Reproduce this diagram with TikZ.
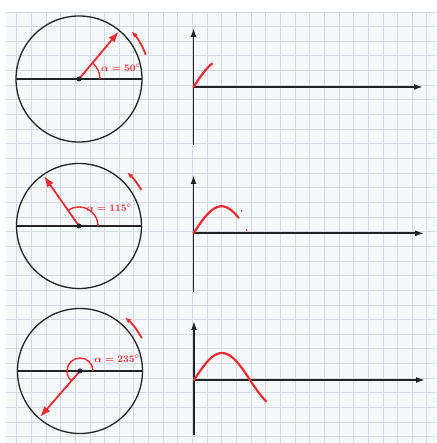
\documentclass[tikz,border=0pt]{standalone}
\usetikzlibrary{arrows.meta}
\definecolor{ink}{RGB}{35,35,35}
\definecolor{pen}{RGB}{232,45,52}
\definecolor{paper}{RGB}{247,248,250}
\definecolor{gridc}{RGB}{214,218,226}
\begin{document}
\begin{tikzpicture}[x=1pt, y=1pt,
    gridline/.style={gridc, line width=0.9pt},
    circ/.style={draw=ink, line width=1.3pt},
    diam/.style={ink, line width=2.4pt},
    vec/.style={pen, line width=1.8pt, -{Latex[length=11pt,width=8pt]}},
    angarc/.style={pen, line width=1.4pt},
    turn/.style={pen, line width=1.8pt, -{Latex[length=6pt,width=5pt]}},
    axis/.style={ink, line width=1.6pt, -{Latex[length=9pt,width=6pt]}},
    curve/.style={pen, line width=2.2pt, line cap=round},
    lbl/.style={text=pen, inner sep=0pt, font=\boldmath},
    dot/.style={fill=ink, circle, inner sep=0pt, minimum size=5pt},
    splash/.style={fill=pen, circle, inner sep=0pt, minimum size=2pt}
  ]
  \useasboundingbox (0,0) rectangle (436,443);
  \fill[white] (0,0) rectangle (436,443);
  \fill[paper] (6,0) rectangle (436,431);
  \foreach \i in {0,...,28}
    \draw[gridline] ({16.7+14.65*\i},0) -- ({16.7+14.65*\i},431);
  \foreach \j in {0,...,29}
    \draw[gridline] (6,{431-14.65*\j}) -- (436,{431-14.65*\j});

  % alpha = 50
  \coordinate (c1) at (79,364);
  \draw[circ] (c1) circle[radius=63];
  \draw[diam] ([xshift=-63pt]c1) -- ([xshift=63pt]c1);
  \draw[angarc] ([shift={(0:21)}]c1) arc[start angle=0, end angle=50, radius=21];
  \coordinate (t1) at ([shift={(50:62)}]c1);
  \draw[vec] (c1) -- (t1);
  \node[dot] (m1) at (c1) {};
  \node[lbl] (l1) at (121,375) {$\alpha = 50^\circ$};
  \draw[turn] ([shift={(20:71)}]c1) arc[start angle=20, end angle=42, radius=71];

  \coordinate (o1) at (193.5,356);
  \coordinate (v1) at (193.5,298);
  \coordinate (w1) at (193.5,415);
  \coordinate (h1) at (423,356);
  \draw[axis] (v1) -- (w1);
  \draw[axis] (o1) -- (h1);
  \draw[curve, shift={(o1)}] plot[domain=0:60, samples=25, smooth] ({\x*56/180},{27*sin(\x)});

  % alpha = 115
  \coordinate (c2) at (79,217);
  \draw[circ] (c2) circle[radius=62.5];
  \draw[diam] ([xshift=-62.5pt]c2) -- ([xshift=62.5pt]c2);
  \draw[angarc] ([shift={(0:19)}]c2) arc[start angle=0, end angle=125, radius=19];
  \coordinate (t2) at ([shift={(125:61)}]c2);
  \draw[vec] (c2) -- (t2);
  \node[dot] (m2) at (c2) {};
  \node[lbl] (l2) at (109,235) {$\alpha = 115^\circ$};
  \draw[turn] ([shift={(30:72)}]c2) arc[start angle=30, end angle=48, radius=72];

  \coordinate (o2) at (193.5,209.7);
  \coordinate (v2) at (193.5,151.3);
  \coordinate (w2) at (193.5,268);
  \coordinate (h2) at (424,209.7);
  \draw[axis] (v2) -- (w2);
  \draw[axis] (o2) -- (h2);
  \draw[curve, shift={(o2)}] plot[domain=0:145, samples=40, smooth] ({\x*56/180},{27*sin(\x)});
  \node[splash] (s1) at (241.7,232) {};
  \node[splash] (s2) at (246.7,213) {};

  % alpha = 235
  \coordinate (c3) at (80,72);
  \draw[circ] (c3) circle[radius=62.5];
  \draw[diam] ([xshift=-62.5pt]c3) -- ([xshift=62.5pt]c3);
  \draw[angarc] ([shift={(0:13)}]c3) arc[start angle=0, end angle=230, radius=13];
  \coordinate (t3) at ([shift={(229:61)}]c3);
  \draw[vec] (c3) -- (t3);
  \node[dot] (m3) at (c3) {};
  \node[lbl] (l3) at (117,84) {$\alpha = 235^\circ$};
  \draw[turn] ([shift={(28:70)}]c3) arc[start angle=28, end angle=50, radius=70];

  \coordinate (o3) at (194,63);
  \coordinate (v3) at (194,8);
  \coordinate (w3) at (194,122);
  \coordinate (h3) at (425,63);
  \draw[axis] (v3) -- (w3);
  \draw[axis] (o3) -- (h3);
  \draw[curve, shift={(o3)}] plot[domain=0:232, samples=50, smooth] ({\x*56/180},{27*sin(\x)});
\end{tikzpicture}
\end{document}
